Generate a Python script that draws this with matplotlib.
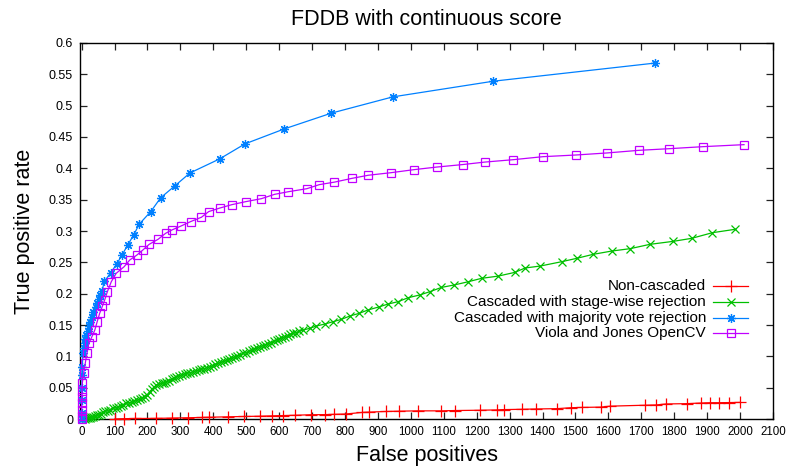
import matplotlib
matplotlib.use("Agg")
import matplotlib.pyplot as plt
from matplotlib.lines import Line2D

plt.rcParams['font.family'] = ['Liberation Sans', 'DejaVu Sans']

title = "FDDB with continuous score"
xlabel = "False positives"
ylabel = "True positive rate"
labels = ["Non-cascaded", "Cascaded with stage-wise rejection",
          "Cascaded with majority vote rejection", "Viola and Jones OpenCV"]
colors = ["#ff0000", "#00c000", "#0080ff", "#c000ff"]

xticks = list(range(0, 2101, 100))
yticks = [0, 0.05, 0.1, 0.15, 0.2, 0.25, 0.3, 0.35, 0.4, 0.45, 0.5, 0.55, 0.6]
ytick_labels = ["0", "0.05", "0.1", "0.15", "0.2", "0.25", "0.3", "0.35",
                "0.4", "0.45", "0.5", "0.55", "0.6"]

# Non-cascaded
red_fp = [101, 130, 162, 225, 275, 324, 366, 387, 444, 493, 542, 577, 613, 648, 697,
          739, 768, 803, 852, 873, 923, 965, 1021, 1092, 1134, 1211, 1261, 1282, 1338,
          1380, 1444, 1486, 1521, 1577, 1606, 1711, 1746, 1775, 1838, 1880, 1909, 1937,
          1965, 2000]
red_tpr = [0.0, 0.0005, 0.0008, 0.001, 0.0015, 0.002, 0.0025, 0.0028, 0.0035, 0.004,
           0.0045, 0.005, 0.0055, 0.006, 0.0068, 0.007, 0.0075, 0.008, 0.0105, 0.011,
           0.012, 0.0125, 0.013, 0.013, 0.0135, 0.014, 0.0145, 0.015, 0.0155, 0.016,
           0.0165, 0.018, 0.0185, 0.019, 0.0205, 0.022, 0.0225, 0.024, 0.0245, 0.0255,
           0.026, 0.026, 0.0262, 0.0265]

# Cascaded with stage-wise rejection
green_fp = [9, 14, 19, 24, 29, 34, 40, 46, 52, 58, 65, 72, 79, 86, 95, 103, 111, 119,
            127, 136, 144, 152, 160, 168, 176, 184, 191, 199, 207, 214, 220, 227, 235,
            243, 250, 257, 265, 273, 281, 288, 297, 305, 313, 321, 330, 338, 347, 355,
            364, 372, 380, 389, 398, 406, 414, 423, 431, 440, 448, 456, 465, 473, 481,
            490, 498, 507, 516, 524, 532, 541, 550, 558, 566, 575, 583, 592, 600, 609,
            617, 626, 634, 642, 651, 660, 673, 693, 713, 739, 764, 789, 815, 843, 870,
            904, 931, 961, 992, 1027, 1058, 1093, 1131, 1174, 1215, 1265, 1316, 1347,
            1392, 1458, 1504, 1554, 1610, 1666, 1726, 1797, 1853, 1916, 1985]
green_tpr = [0.000, 0.001, 0.0015, 0.002, 0.003, 0.0037, 0.005, 0.006, 0.007, 0.0085,
             0.0107, 0.012, 0.0135, 0.015, 0.017, 0.018, 0.0195, 0.021, 0.023, 0.025,
             0.026, 0.027, 0.0285, 0.030, 0.0314, 0.033, 0.0356, 0.039, 0.0436, 0.048,
             0.051, 0.0543, 0.056, 0.057, 0.058, 0.0595, 0.061, 0.0635, 0.065, 0.0675,
             0.069, 0.0705, 0.072, 0.073, 0.074, 0.0755, 0.077, 0.078, 0.079, 0.0805,
             0.082, 0.0835, 0.085, 0.087, 0.089, 0.0905, 0.092, 0.094, 0.0955, 0.097,
             0.099, 0.1005, 0.102, 0.1048, 0.106, 0.108, 0.110, 0.111, 0.113, 0.1154,
             0.117, 0.1185, 0.120, 0.122, 0.124, 0.126, 0.128, 0.1295, 0.131, 0.133,
             0.135, 0.1367, 0.138, 0.140, 0.142, 0.1447, 0.1484, 0.1516, 0.1553, 0.159,
             0.1644, 0.1686, 0.174, 0.179, 0.1835, 0.1872, 0.1936, 0.1979, 0.2032, 0.210,
             0.2138, 0.219, 0.2245, 0.228, 0.234, 0.241, 0.244, 0.251, 0.2564, 0.2628,
             0.268, 0.2718, 0.2787, 0.2835, 0.2883, 0.2973, 0.3027]

# Cascaded with majority vote rejection
blue_fp = [0, 0, 0, 1, 1, 2, 4, 6, 9, 11, 14, 18, 22, 26, 30, 36, 43, 47, 52, 57, 62,
           69, 88, 106, 122, 140, 158, 175, 210, 240, 283, 329, 419, 496, 616, 758, 945,
           1250, 1742]
blue_tpr = [0.0, 0.01, 0.03, 0.05, 0.07, 0.083, 0.105, 0.113, 0.121, 0.128, 0.134, 0.141,
            0.148, 0.155, 0.162, 0.170, 0.178, 0.185, 0.191, 0.198, 0.2047, 0.2197, 0.233,
            0.247, 0.261, 0.2777, 0.2936, 0.311, 0.331, 0.353, 0.372, 0.3926, 0.415,
            0.439, 0.463, 0.488, 0.514, 0.539, 0.568]

# Viola and Jones OpenCV
purple_fp = [0, 0, 0, 0, 1, 1, 2, 6, 11, 16, 22, 31, 40, 47, 55, 63, 70, 78, 90, 105,
             129, 146, 168, 186, 205, 232, 255, 274, 302, 331, 364, 386, 420, 456, 498,
             546, 586, 628, 684, 722, 768, 821, 871, 939, 1011, 1078, 1157, 1225, 1311,
             1401, 1502, 1595, 1692, 1783, 1888, 2012]
purple_tpr = [0.0, 0.005, 0.015, 0.025, 0.035, 0.045, 0.057, 0.073, 0.089, 0.105, 0.121,
              0.131, 0.142, 0.155, 0.169, 0.180, 0.19, 0.203, 0.219, 0.2325, 0.243,
              0.2537, 0.2617, 0.2697, 0.2787, 0.2867, 0.2963, 0.3016, 0.308, 0.315, 0.322,
              0.331, 0.3367, 0.342, 0.3468, 0.3516, 0.3585, 0.3627, 0.3675, 0.374, 0.378,
              0.384, 0.389, 0.393, 0.398, 0.402, 0.406, 0.410, 0.4138, 0.4186, 0.4213,
              0.4245, 0.4287, 0.4313, 0.4346, 0.4378]

W, H = 790, 468
fig = plt.figure(figsize=(W / 100, H / 100), dpi=100)
L, R, T, B = 80, 773, 43, 419
ax = fig.add_axes([L / W, 1 - B / H, (R - L) / W, (B - T) / H])

markers = ["+", "x", (8, 2, 0), "s"]
msizes = [8, 5.5, 6.5, 6]
series = [(red_fp, red_tpr), (green_fp, green_tpr), (blue_fp, blue_tpr),
          (purple_fp, purple_tpr)]
for i, (xs, ys) in enumerate(series):
    ax.plot(xs, ys, color=colors[i], lw=0.9, marker=markers[i], ms=msizes[i],
            mew=0.9, mfc="none", clip_on=False, zorder=3 + i)

ax.set_xlim(-5, 2100)
ax.set_ylim(0, 0.6)
ax.set_xticks(xticks)
ax.set_xticklabels([str(v) for v in xticks])
ax.set_yticks(yticks)
ax.set_yticklabels(ytick_labels)
ax.tick_params(direction="in", top=True, right=True, length=5, width=0.9,
               color="#222222")
ax.tick_params(axis="x", labelsize=8.3, pad=5)
ax.tick_params(axis="y", labelsize=9, pad=5)
for s in ax.spines.values():
    s.set_linewidth(1.0)

ax.set_title(title, fontsize=15.5, pad=13)
ax.set_xlabel(xlabel, fontsize=15.5, labelpad=5)
ax.set_ylabel(ylabel, fontsize=15.5, labelpad=10)

# legend drawn in gnuplot style: right-aligned text, sample to the right
rows_y = [286, 302.3, 317.7, 332.7]
for i, lab in enumerate(labels):
    yf = 1 - rows_y[i] / H
    fig.text(706 / W, yf, lab, ha="right", va="center", fontsize=11)
    fig.add_artist(Line2D([713 / W, 748 / W], [yf, yf], transform=fig.transFigure,
                          color=colors[i], lw=0.9))
    fig.add_artist(Line2D([731 / W], [yf], transform=fig.transFigure,
                          color=colors[i], marker=markers[i], ms=msizes[i],
                          mew=0.9, mfc="none", lw=0))

fig.savefig("out.png", dpi=100)
